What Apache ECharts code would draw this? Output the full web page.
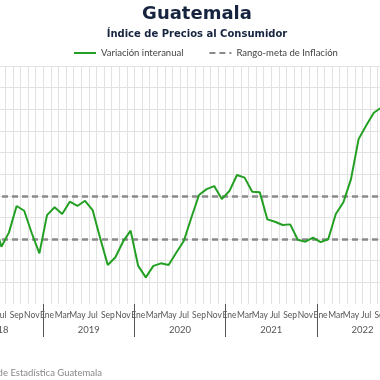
<!DOCTYPE html>
<html>
<head>
<meta charset="utf-8">
<script src="https://cdn.jsdelivr.net/npm/echarts@6/dist/echarts.min.js"></script>
<style>
html,body{margin:0;padding:0;width:380px;height:380px;overflow:hidden;background:#fff;position:relative;}
#c{position:absolute;left:-100px;top:0;width:594px;height:380px;}
</style>
</head>
<body>
<div id="c"></div>
<script>
var monthNames = ['Ene','Feb','Mar','Abr','May','Jun','Jul','Ago','Sep','Oct','Nov','Dic'];
var years = ['2018','2019','2020','2021','2022'];
var inflation = [
  4.70, 4.10, 3.80, 3.60, 4.00, 3.88, 2.65, 3.31, 4.53, 4.31, 3.27, 2.34,
  4.11, 4.47, 4.16, 4.73, 4.53, 4.77, 4.34, 3.04, 1.80, 2.16, 2.88, 3.39,
  1.76, 1.23, 1.76, 1.88, 1.80, 2.37, 2.91, 4.00, 5.04, 5.31, 5.45, 4.85,
  5.22, 5.96, 5.84, 5.19, 5.16, 3.91, 3.80, 3.65, 3.68, 2.97, 2.88, 3.07,
  2.86, 2.99, 4.16, 4.70, 5.77, 7.62, 8.25, 8.84, 9.08, 9.30, 9.20, 9.20
];
var targetRange = [3, 5];
var yTicks = {min: 0, max: 11, interval: 1};

var categories = [];
years.forEach(function (y) {
  monthNames.forEach(function (m) { categories.push(m + ' ' + y); });
});

var gridColors = [];
for (var i = 0; i <= (yTicks.max - yTicks.min) / yTicks.interval; i++) {
  gridColors.push(i === 0 ? 'rgba(0,0,0,0)' : '#e2e2e2');
}

var chart = echarts.init(document.getElementById('c'), null, {renderer: 'canvas'});
var font = 'Lato, "Open Sans", sans-serif';
var titleFont = '"DejaVu Sans", sans-serif';
chart.setOption({
  animation: false,
  title: [{
    text: 'Guatemala',
    left: 'center', top: 0,
    textStyle: {fontFamily: titleFont, fontWeight: 'bold', fontSize: 18, color: '#16243f'}
  }, {
    text: 'Índice de Precios al Consumidor',
    left: 'center', top: 24,
    textStyle: {fontFamily: titleFont, fontWeight: 'bold', fontSize: 10, color: '#16243f'}
  }],
  legend: {
    left: 173, top: 48, padding: 0,
    itemWidth: 22, itemHeight: 10, itemGap: 25,
    itemStyle: {opacity: 0},
    textStyle: {fontFamily: font, fontSize: 9.5, color: '#444'},
    data: ['Variación interanual', 'Rango-meta de Inflación']
  },
  grid: {left: 52, right: 86, top: 66, bottom: 76, containLabel: false},
  xAxis: [{
    type: 'category',
    data: categories,
    boundaryGap: true,
    axisLine: {show: false},
    axisTick: {show: false},
    splitLine: {show: true, interval: 0, lineStyle: {color: '#e2e2e2', width: 1}},
    axisLabel: {
      interval: 1, margin: 7,
      fontFamily: font, fontSize: 8.5, color: '#555',
      formatter: function (v) { return v.split(' ')[0]; }
    }
  }, {
    type: 'category',
    data: years,
    position: 'bottom',
    boundaryGap: true,
    axisLine: {show: false},
    axisTick: {show: true, length: 33, lineStyle: {color: '#555', width: 1}},
    axisLabel: {margin: 21, fontFamily: font, fontSize: 9.5, color: '#555'},
    splitLine: {show: false}
  }],
  yAxis: {
    type: 'value',
    min: yTicks.min, max: yTicks.max, interval: yTicks.interval,
    axisLine: {show: false}, axisTick: {show: false},
    axisLabel: {show: true, fontFamily: font, fontSize: 10, color: '#555'},
    splitLine: {lineStyle: {color: gridColors, width: 1}}
  },
  series: [{
    name: 'Variación interanual',
    type: 'line',
    data: inflation,
    symbol: 'none',
    z: 5,
    lineStyle: {color: '#23a023', width: 2},
    itemStyle: {color: '#23a023'}
  }, {
    name: 'Rango-meta de Inflación',
    type: 'line',
    data: [],
    symbol: 'none',
    lineStyle: {color: '#8a8a8a', width: 2.5, type: [6, 4]},
    itemStyle: {color: '#8a8a8a'},
    markLine: {
      silent: true, symbol: 'none',
      label: {show: false},
      lineStyle: {color: '#8a8a8a', width: 2.5, type: [6, 4]},
      data: targetRange.map(function (v) { return {yAxis: v}; })
    }
  }],
  graphic: [{
    type: 'text',
    x: 202, y: 373,
    style: {
      text: 'Fuente: Instituto Nacional de Estadística Guatemala',
      align: 'right', verticalAlign: 'middle',
      fontFamily: font, fontSize: 9.5, fill: '#888'
    }
  }]
});
</script>
</body>
</html>
